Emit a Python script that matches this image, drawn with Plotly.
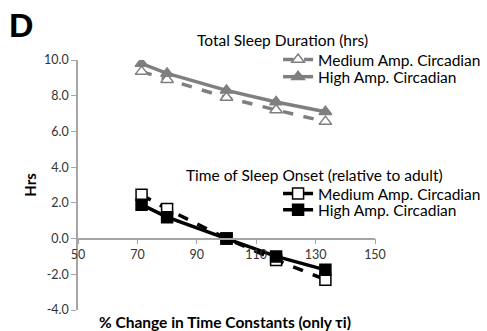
import plotly.graph_objects as go

pct_change = [71.4, 80, 100, 116.7, 133.3]
tsd_medium = [9.35, 8.9, 7.9, 7.2, 6.55]
tsd_high = [9.8, 9.25, 8.3, 7.65, 7.1]
onset_medium = [2.45, 1.65, 0.0, -1.2, -2.3]
onset_high = [1.9, 1.2, 0.0, -1.0, -1.75]

x_ticks = [50, 70, 90, 110, 130, 150]
y_ticks = [-4, -2, 0, 2, 4, 6, 8, 10]

GRAY = "#7f7f7f"
FONT = "Lato"

fig = go.Figure()
fig.add_trace(go.Scatter(
    x=pct_change, y=tsd_medium, mode="lines+markers", name="Medium Amp. Circadian",
    line=dict(color=GRAY, width=3.5, dash="dash"),
    marker=dict(symbol="triangle-up", size=11, color="white", line=dict(color=GRAY, width=1.5)),
    legend="legend"))
fig.add_trace(go.Scatter(
    x=pct_change, y=tsd_high, mode="lines+markers", name="High Amp. Circadian",
    line=dict(color=GRAY, width=3.5),
    marker=dict(symbol="triangle-up", size=11, color=GRAY, line=dict(color=GRAY, width=1.5)),
    legend="legend2"))
fig.add_trace(go.Scatter(
    x=pct_change, y=onset_medium, mode="lines+markers", name="Medium Amp. Circadian",
    line=dict(color="black", width=3.5, dash="dash"),
    marker=dict(symbol="square", size=11, color="white", line=dict(color="black", width=1.5)),
    legend="legend3"))
fig.add_trace(go.Scatter(
    x=pct_change, y=onset_high, mode="lines+markers", name="High Amp. Circadian",
    line=dict(color="black", width=3.5),
    marker=dict(symbol="square", size=11, color="black", line=dict(color="black", width=1.5)),
    legend="legend4"))

legend_common = dict(xref="container", yref="container", xanchor="left", yanchor="middle",
                     bgcolor="rgba(0,0,0,0)", font=dict(family=FONT, size=15.5, color="black"),
                     itemwidth=30)

fig.update_layout(
    width=487, height=331,
    margin=dict(l=78, r=112, t=60, b=21, autoexpand=False),
    plot_bgcolor="white", paper_bgcolor="white",
    showlegend=True,
    legend=dict(x=0.571, y=0.819, **legend_common),
    legend2=dict(x=0.571, y=0.767, **legend_common),
    legend3=dict(x=0.571, y=0.414, **legend_common),
    legend4=dict(x=0.571, y=0.365, **legend_common),
    xaxis=dict(range=[50, 150], tickvals=x_ticks, ticktext=[str(v) for v in x_ticks],
               anchor="free", position=4 / 14, showline=True, linecolor="#a6a6a6", linewidth=1.5,
               ticks="outside", ticklen=5, tickcolor="#a6a6a6", showgrid=False, zeroline=False,
               tickfont=dict(family=FONT, size=12.5, color="#333333")),
    yaxis=dict(range=[-4, 10], tickvals=y_ticks, ticktext=[f"{v:.1f}" for v in y_ticks],
               showline=True, linecolor="#a6a6a6", linewidth=1.5, ticks="outside", ticklen=5,
               tickcolor="#a6a6a6", showgrid=False, zeroline=False,
               tickfont=dict(family=FONT, size=12.5, color="#333333"),
               title=dict(text="<b>Hrs</b>", font=dict(family=FONT, size=15, color="black"), standoff=4)),
    annotations=[
        dict(text="<b>D</b>", xref="paper", yref="paper", x=-0.24, y=1.225, xanchor="left", yanchor="top",
             showarrow=False, font=dict(family="Liberation Sans", size=34, color="black")),
        dict(text="Total Sleep Duration (hrs)", xref="paper", yref="paper", x=0.69, y=1.08,
             xanchor="center", yanchor="middle", showarrow=False,
             font=dict(family=FONT, size=15.5, color="black")),
        dict(text="Time of Sleep Onset (relative to adult)", xref="paper", yref="paper", x=0.795, y=0.54,
             xanchor="center", yanchor="middle", showarrow=False,
             font=dict(family=FONT, size=15.5, color="black")),
        dict(text="<b>% Change in Time Constants (only τi)</b>", xref="paper", yref="paper", x=0.495, y=-0.048,
             xanchor="center", yanchor="middle", showarrow=False,
             font=dict(family=FONT, size=15.5, color="black")),
    ],
)

fig.write_html("out.html")
